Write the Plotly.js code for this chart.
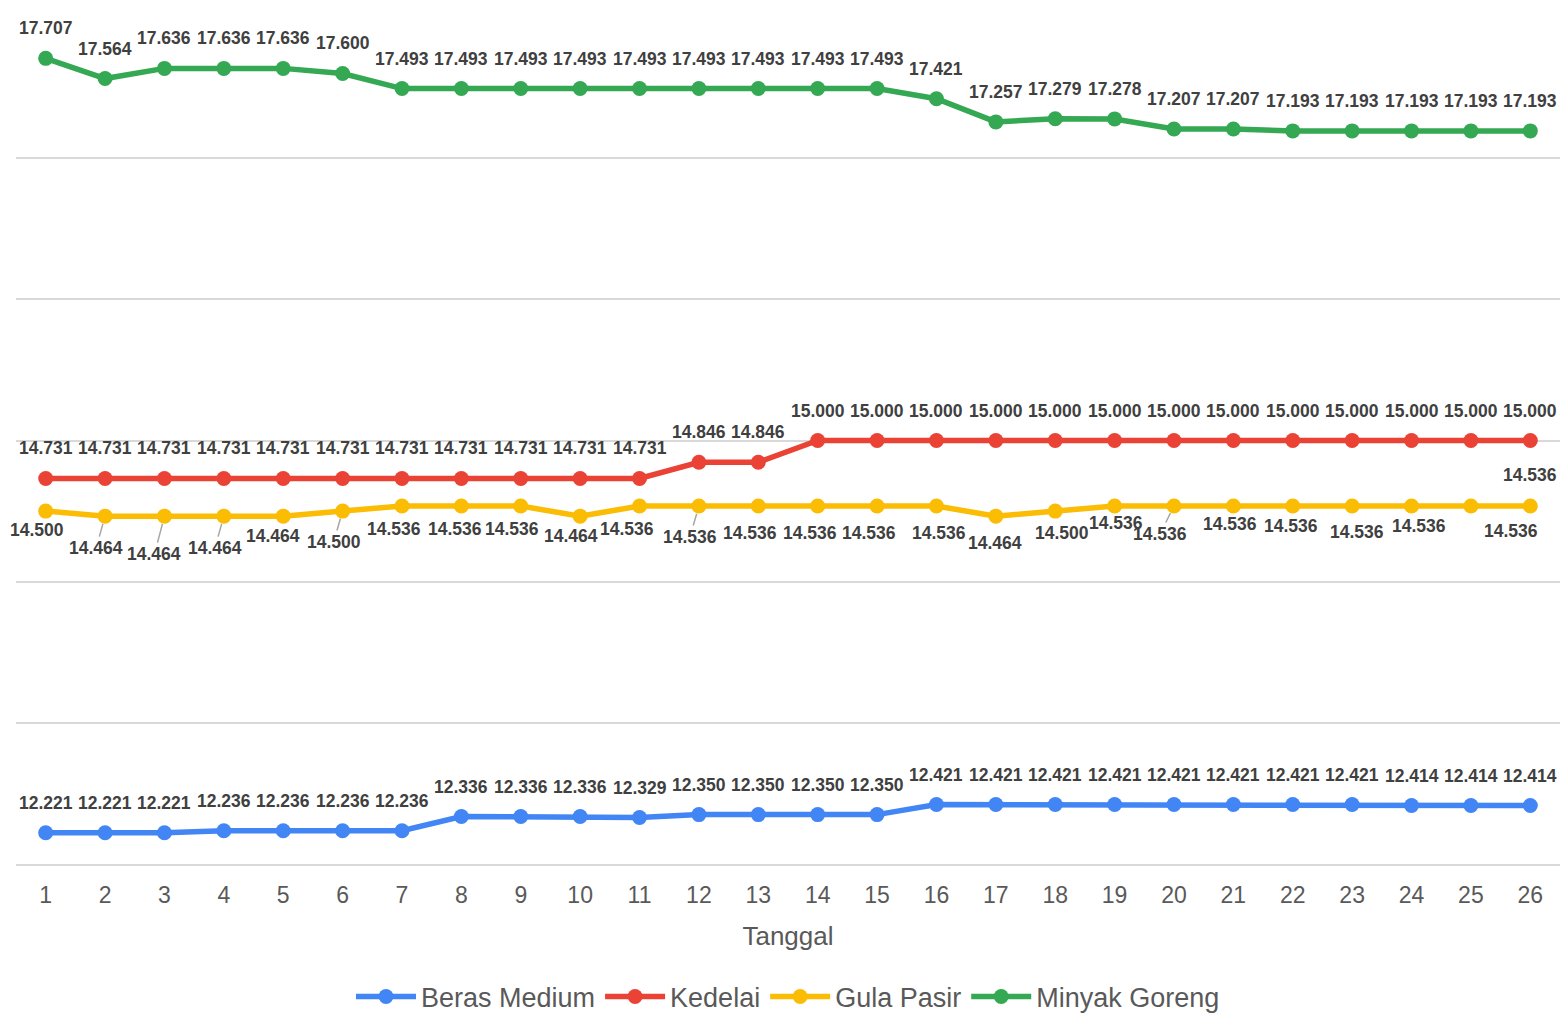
<!DOCTYPE html>
<html>
<head>
<meta charset="utf-8">
<script src="https://cdn.plot.ly/plotly-3.0.1.min.js"></script>
<style>
html,body{margin:0;padding:0;background:#fff;}
#chart{width:1561px;height:1013px;}
</style>
</head>
<body>
<div id="chart"></div>
<script>
// ---- data ----
const days = [1,2,3,4,5,6,7,8,9,10,11,12,13,14,15,16,17,18,19,20,21,22,23,24,25,26];
const berasMedium = [12221,12221,12221,12236,12236,12236,12236,12336,12336,12336,12329,12350,12350,12350,12350,12421,12421,12421,12421,12421,12421,12421,12421,12414,12414,12414];
const kedelai = [14731,14731,14731,14731,14731,14731,14731,14731,14731,14731,14731,14846,14846,15000,15000,15000,15000,15000,15000,15000,15000,15000,15000,15000,15000,15000];
const gulaPasir = [14500,14464,14464,14464,14464,14500,14536,14536,14536,14464,14536,14536,14536,14536,14536,14536,14464,14500,14536,14536,14536,14536,14536,14536,14536,14536];
const minyakGoreng = [17707,17564,17636,17636,17636,17600,17493,17493,17493,17493,17493,17493,17493,17493,17493,17421,17257,17279,17278,17207,17207,17193,17193,17193,17193,17193];
const seriesNames = ["Beras Medium","Kedelai","Gula Pasir","Minyak Goreng"];
const xTitle = "Tanggal";

// ---- styles ----
const colors = ["#4285F4","#EA4335","#FBBC04","#34A853"];
// label placement offsets (px) for Gula Pasir labels (Excel-style auto placement)
const gulaDx = [-9,-9,-10,-9,-10,-9,-8,-6,-9,-9,-13,-9,-8,-8,-8,3,-1,7,1,-14,-3,-2,5,7,40,0];
const gulaDy = [19,32,38,32,20,31,23,23,23,20,23,31,27,27,27,27,27,22,17,28,18,20,26,20,25,-31];
const gulaLeader = [false,true,true,true,false,true,false,false,false,false,false,true,false,false,false,false,false,false,false,true,false,false,false,false,false,false];

const fmt = v => (v/1000).toFixed(3);
const labelFont = {family:"Liberation Sans, Arial, sans-serif", size:17.5, color:"#404040", weight:"bold"};

const allSeries = [berasMedium, kedelai, gulaPasir, minyakGoreng];
const traces = allSeries.map((ys,i)=>({
  type:"scatter", mode:"lines+markers", name:seriesNames[i],
  x:days, y:ys,
  line:{color:colors[i], width:5.5},
  marker:{color:colors[i], size:15},
  hoverinfo:"x+y"
}));

const annotations = [];
[berasMedium, kedelai, minyakGoreng].forEach(ys=>{
  ys.forEach((v,j)=>{
    annotations.push({x:days[j], y:v, xref:"x", yref:"y", text:fmt(v), showarrow:false,
      yshift:30, font:labelFont});
  });
});
gulaPasir.forEach((v,j)=>{
  if (gulaLeader[j]) {
    annotations.push({x:days[j], y:v, xref:"x", yref:"y", text:fmt(v), showarrow:true,
      arrowhead:0, arrowwidth:1.5, arrowcolor:"#a6a6a6", standoff:8,
      ax:gulaDx[j], ay:gulaDy[j], font:labelFont});
  } else {
    annotations.push({x:days[j], y:v, xref:"x", yref:"y", text:fmt(v), showarrow:false,
      xshift:gulaDx[j], yshift:-gulaDy[j], font:labelFont});
  }
});

const layout = {
  width:1561, height:1013,
  margin:{l:16, r:1, t:17, b:149, autoexpand:false},
  paper_bgcolor:"#ffffff", plot_bgcolor:"#ffffff",
  showlegend:true,
  legend:{orientation:"h", x:0.5, xanchor:"center", y:-0.128, yanchor:"top",
    font:{family:"Liberation Sans, Arial, sans-serif", size:27, color:"#595959"},
    itemwidth:60, traceorder:"normal"},
  xaxis:{
    range:[0.5,26.5], tickmode:"array", tickvals:days, ticktext:days.map(String),
    showgrid:false, zeroline:false, showline:true, linecolor:"#d9d9d9", linewidth:2,
    ticks:"", ticklabelstandoff:9, automargin:false,
    tickfont:{family:"Liberation Sans, Arial, sans-serif", size:23, color:"#595959"},
    title:{text:xTitle, standoff:20, font:{family:"Liberation Sans, Arial, sans-serif", size:26, color:"#595959"}}
  },
  yaxis:{
    range:[12000,18000], dtick:1000, showgrid:true, gridcolor:"#d9d9d9", gridwidth:2,
    showticklabels:false, zeroline:false, showline:false, ticks:"", automargin:false
  },
  annotations:annotations
};

Plotly.newPlot("chart", traces, layout, {displayModeBar:false, staticPlot:true});
</script>
</body>
</html>
